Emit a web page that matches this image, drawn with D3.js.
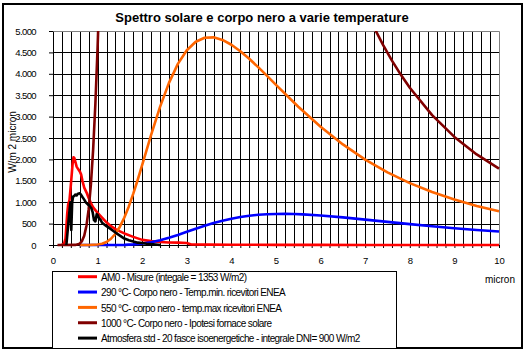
<!DOCTYPE html>
<html>
<head>
<meta charset="utf-8">
<script src="https://cdn.jsdelivr.net/npm/d3@7"></script>
<style>
  body { margin: 0; background: #fff; }
  svg { display: block; font-family: 'Liberation Sans', Arial, sans-serif; }
</style>
</head>
<body>
<div id="chart"></div>
<script>
// Values (micron, W/m2 micron)
var am0X = [0.20,0.25,0.28,0.30,0.32,0.34,0.37,0.40,0.42,0.44,0.46,0.48,0.50,0.53,0.56,0.60,0.63,0.66,0.70,0.75,0.80,0.85,0.90,1.00,1.10,1.20,1.30,1.40,1.50,1.60,1.80,2.00,2.20,2.40,2.60,2.80,3.00,3.10,3.50,4.00,5.00,6.00,7.00,8.00,9.00,10.00];
var am0Y = [0,40,150,450,750,950,1050,1400,1650,1900,2050,2030,1950,1830,1780,1720,1650,1500,1340,1230,1100,980,880,750,640,530,440,370,320,270,190,120,90,70,60,55,45,12,8,5,4,2,1,0.6,0.4,0.3];

var bb290X = [0.6,1.0,1.2,1.4,1.6,1.8,2.0,2.2,2.4,2.6,2.8,3.0,3.2,3.4,3.6,3.8,4.0,4.2,4.4,4.6,4.8,5.0,5.2,5.4,5.6,6.0,6.5,7.0,7.5,8.0,8.5,9.0,9.5,10.0];
var bb290Y = [0,0,0.1,0.8,4,14,33,66,112,170,236,308,379,448,512,568,615,653,683,705,719,726,728,724,716,690,645,593,540,488,439,393,352,315];

var bb550X = [0.6,0.8,1.0,1.1,1.2,1.3,1.4,1.5,1.6,1.7,1.8,1.9,2.0,2.2,2.4,2.6,2.8,3.0,3.2,3.4,3.6,3.8,4.0,4.2,4.4,4.6,4.8,5.0,5.5,6.0,6.5,7.0,7.5,8.0,8.5,9.0,9.5,10.0];
var bb550Y = [0,0,10,29,71,146,263,428,642,901,1199,1525,1870,2572,3228,3789,4232,4549,4748,4843,4852,4792,4679,4528,4350,4155,3950,3742,3231,2761,2350,1996,1698,1446,1237,1061,913,789];

var bb1000X = [0.1,0.5,0.6,0.65,0.7,0.75,0.8,0.85,0.9,0.95,1.0,1.05,1.2,1.5,2.0,2.5,3.0,4.0,5.0,6.0,6.5,7.0,7.2,7.4,7.6,7.8,8.0,8.5,9.0,9.5,10.0];
var bb1000Y = [0,2,32,91,217,450,836,1416,2228,3295,4618,6198,12210,26330,41200,42120,36400,23030,13950,8630,6880,5528,5080,4675,4309,3976,3673,3033,2525,2116,1785];

var atmX = [0.30,0.33,0.36,0.39,0.41,0.43,0.45,0.48,0.50,0.53,0.56,0.60,0.63,0.66,0.70,0.74,0.78,0.82,0.86,0.89,0.92,0.95,0.98,1.00,1.03,1.07,1.10,1.15,1.20,1.30,1.40,1.50,1.60,1.70,1.80,1.90,2.00,2.10,2.20,2.30,2.40];
var atmY = [0,350,700,1000,350,1000,1130,1150,1180,1160,1200,1210,1170,1120,1060,990,950,920,860,760,580,550,720,700,630,580,520,480,440,370,290,220,150,110,80,55,45,30,20,12,0];

var seriesNames = [
  'AM0 - Misure (integale = 1353 W/m2)',
  '290 °C- Corpo nero - Temp.min. ricevitori ENEA',
  '550 °C- corpo nero - temp.max ricevitori ENEA',
  '1000 °C- Corpo nero - Ipotesi fornace solare',
  'Atmosfera std - 20 fasce isoenergetiche - integrale DNI= 900 W/m2'
];
var seriesColors = ['#ff0000', '#0000ff', '#ff6600', '#800000', '#000000'];

var xTickLabels = ['0','1','2','3','4','5','6','7','8','9','10'];
var yTickValues = [0,500,1000,1500,2000,2500,3000,3500,4000,4500,5000];
var yTickLabels = ['0','500','1.000','1.500','2.000','2.500','3.000','3.500','4.000','4.500','5.000'];

var W = 528, H = 353;
var svg = d3.select('#chart').append('svg').attr('width', W).attr('height', H);

// outer frame
svg.append('rect').attr('x', 3).attr('y', 4).attr('width', 519).attr('height', 344)
    .attr('fill', '#fff').attr('stroke', '#000').attr('stroke-width', 2);

var x = d3.scaleLinear().domain([0, 10]).range([53, 499]);
var y = d3.scaleLinear().domain([0, 5000]).range([245, 31]);
var px = function(v){ return Math.round(x(v)) + 0.5; };
var py = function(v){ return Math.round(y(v)) + 0.5; };

// title
svg.append('text').attr('x', 262).attr('y', 22).attr('text-anchor', 'middle')
    .style('font-size', '13px').style('font-weight', 'bold')
    .text('Spettro solare e corpo nero a varie temperature');

// grid
var grid = svg.append('g');
var xMinor = d3.range(1, 50).map(function(i){ return i / 5; });
grid.selectAll('line.v').data(xMinor).enter().append('line')
    .attr('x1', px).attr('x2', px).attr('y1', y(5000)).attr('y2', y(0))
    .attr('stroke', '#000').attr('stroke-width', 1);
grid.selectAll('line.h').data(yTickValues.slice(1, -1)).enter().append('line')
    .attr('x1', x(0)).attr('x2', x(10)).attr('y1', py).attr('y2', py)
    .attr('stroke', '#000').attr('stroke-width', 1);

// plot border top/right (grey)
svg.append('path')
    .attr('d', 'M' + px(0) + ',' + py(5000) + 'H' + px(10) + 'V' + py(0))
    .attr('fill', 'none').attr('stroke', '#808080').attr('stroke-width', 1);

// axes
var yAxis = d3.axisLeft(y).tickValues(yTickValues)
    .tickFormat(function(d, i){ return yTickLabels[i]; })
    .tickSizeInner(4).tickSizeOuter(0).tickPadding(13);
var gy = svg.append('g').attr('transform', 'translate(' + (Math.round(x(0))) + ',0)').call(yAxis);
gy.selectAll('text').style('font-size', '9.5px').style('letter-spacing', '-0.6px').attr('fill', '#000');
gy.selectAll('line').attr('stroke', '#000');
gy.select('.domain').attr('stroke', '#000');

var xTicks = d3.range(0, 51).map(function(i){ return i / 5; });
var xAxis = d3.axisBottom(x).tickValues(xTicks)
    .tickFormat(function(d){ return Math.abs(d - Math.round(d)) < 1e-6 ? xTickLabels[Math.round(d)] : ''; })
    .tickSizeInner(3).tickSizeOuter(0).tickPadding(9);
var gx = svg.append('g').attr('transform', 'translate(0,' + (Math.round(y(0))) + ')').call(xAxis);
gx.selectAll('text').style('font-size', '9.5px').attr('fill', '#000');
gx.selectAll('line').attr('stroke', '#000');
gx.select('.domain').attr('stroke', '#000');

// axis titles
svg.append('text').attr('transform', 'translate(16,142) rotate(-90)')
    .attr('text-anchor', 'middle').style('font-size', '10px').text('W/m 2 micron');
svg.append('text').attr('x', 515).attr('y', 283).attr('text-anchor', 'end')
    .style('font-size', '10px').text('micron');

// series
svg.append('clipPath').attr('id', 'plotclip').append('rect')
    .attr('x', x(0)).attr('y', y(5000)).attr('width', x(10) - x(0) + 3).attr('height', y(0) - y(5000) + 4);

var seriesData = [
  [am0X, am0Y], [bb290X, bb290Y], [bb550X, bb550Y], [bb1000X, bb1000Y], [atmX, atmY]
];
var line = d3.line().x(function(d){ return x(d[0]); }).y(function(d){ return y(d[1]); });
var plot = svg.append('g').attr('clip-path', 'url(#plotclip)');
seriesData.forEach(function(s, k){
  var pts = d3.zip(s[0], s[1]);
  plot.append('path').datum(pts).attr('d', line)
      .attr('fill', 'none').attr('stroke', seriesColors[k])
      .attr('stroke-width', 2.6).attr('stroke-linejoin', 'round');
});

// legend
var lg = svg.append('g');
lg.append('rect').attr('x', 52.5).attr('y', 271.5).attr('width', 344).attr('height', 77)
    .attr('fill', '#fff').attr('stroke', '#000').attr('stroke-width', 1);
seriesNames.forEach(function(name, k){
  var by = 281 + k * 15.35;
  lg.append('line').attr('x1', 78).attr('x2', 97).attr('y1', by - 4.3).attr('y2', by - 4.3)
      .attr('stroke', seriesColors[k]).attr('stroke-width', 3);
  lg.append('text').attr('x', 101).attr('y', by)
      .style('font-size', '10px').style('letter-spacing', '-0.6px').text(name);
});
</script>
</body>
</html>
